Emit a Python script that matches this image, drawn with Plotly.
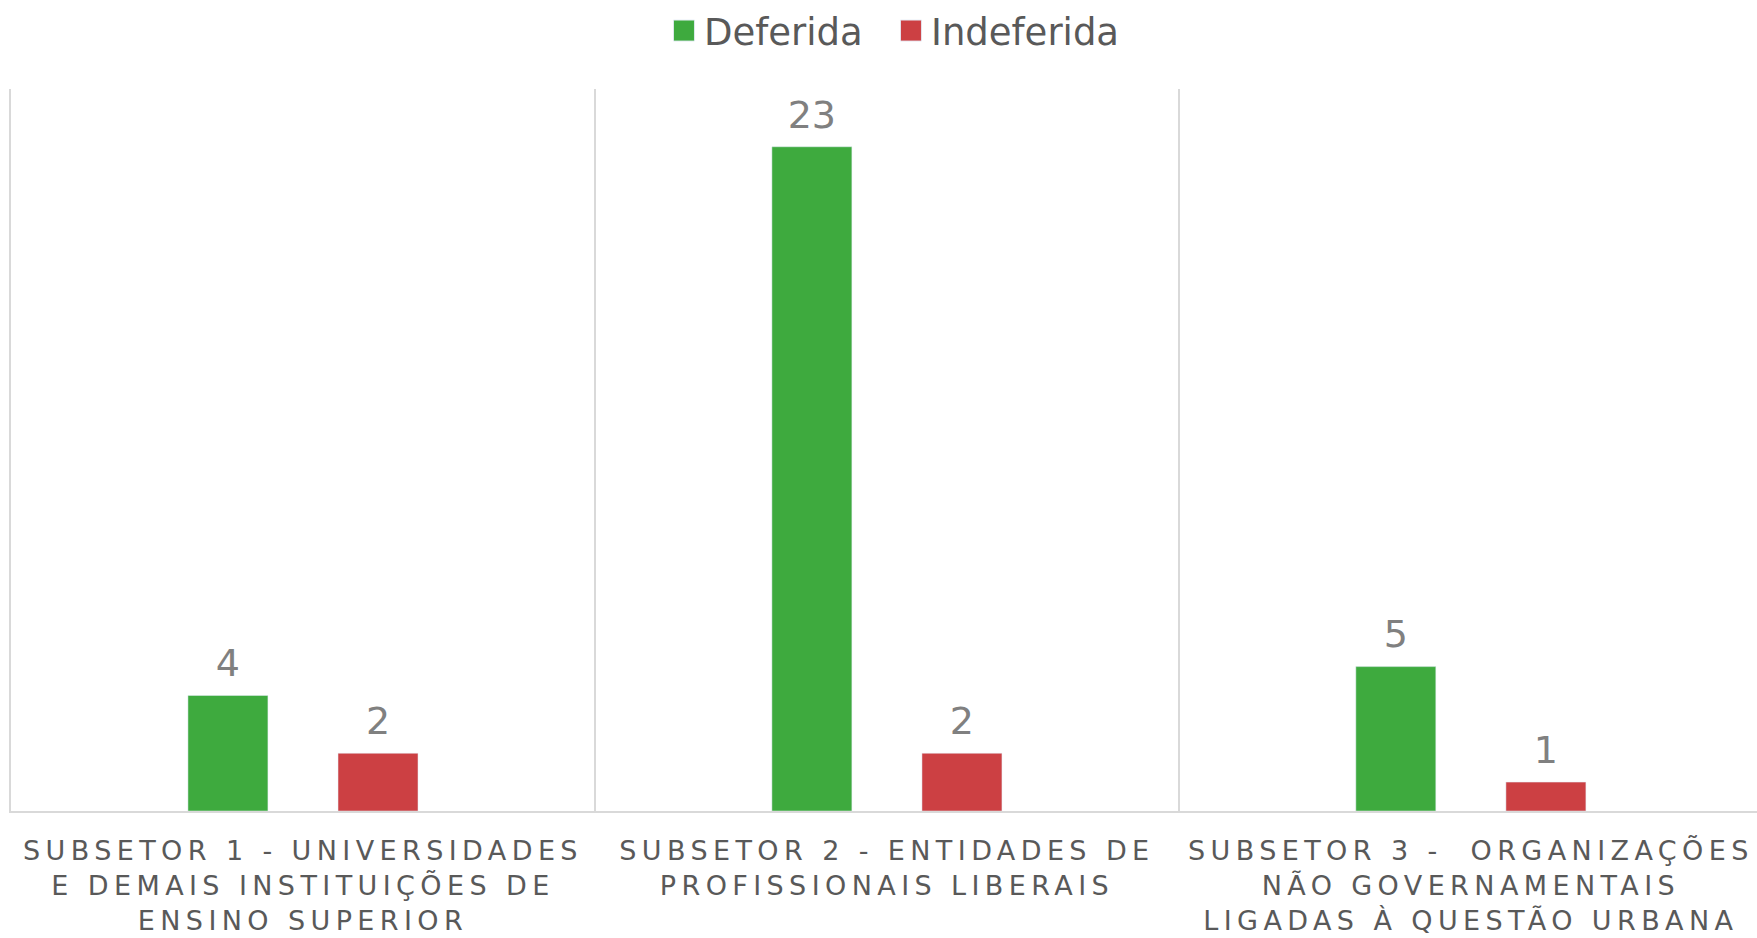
import plotly.graph_objects as go

# data
categorias = [
    "SUBSETOR 1 - UNIVERSIDADES<br>E DEMAIS INSTITUIÇÕES DE<br>ENSINO SUPERIOR",
    "SUBSETOR 2 - ENTIDADES DE<br>PROFISSIONAIS LIBERAIS",
    "SUBSETOR 3 -  ORGANIZAÇÕES<br>NÃO GOVERNAMENTAIS<br>LIGADAS À QUESTÃO URBANA",
]
deferida = [4, 23, 5]
indeferida = [2, 2, 1]

VERDE = "#3EAA3E"
VERMELHO = "#CC4043"
CINZA_LINHA = "#D9D9D9"
FONTE = "DejaVu Sans, Verdana, sans-serif"

data = []
for nome, valores, cor in [("Deferida", deferida, VERDE), ("Indeferida", indeferida, VERMELHO)]:
    data.append(go.Bar(x=categorias, y=valores, name=nome, marker_color=cor,
                       hoverinfo="x+y+name"))
# value labels: text points grouped like the bars, with an invisible marker as padding
for valores in [deferida, indeferida]:
    data.append(go.Scatter(x=categorias, y=valores, mode="markers+text", text=valores,
                           textposition="top center", showlegend=False, hoverinfo="skip",
                           marker=dict(size=14, opacity=0),
                           textfont=dict(size=38, color="#808080", family=FONTE),
                           cliponaxis=False))

layout = go.Layout(
    width=1757, height=938,
    margin=dict(l=11, r=0, t=88, b=127),
    paper_bgcolor="white", plot_bgcolor="white",
    font=dict(family=FONTE, color="#595959"),
    barmode="group", bargap=0.486, bargroupgap=0.467,
    scattermode="group", scattergap=0.486,
    showlegend=True,
    legend=dict(orientation="h", x=0.504, xanchor="center", y=1.08, yanchor="middle",
                font=dict(size=37, color="#595959"), entrywidth=182),
    xaxis=dict(type="category", range=[-0.5, 2.49], tickson="boundaries",
               showgrid=True, gridcolor=CINZA_LINHA, gridwidth=1.5,
               showline=True, linecolor=CINZA_LINHA, linewidth=1.5,
               ticks="", ticklabelstandoff=15, automargin=False,
               tickfont=dict(size=27, color="#595959")),
    yaxis=dict(range=[0, 25], showgrid=False, showticklabels=False,
               zeroline=False, showline=True, linecolor=CINZA_LINHA, linewidth=1.5,
               automargin=False),
)

fig = go.Figure(data=data, layout=layout)

# page without body margin, Excel-style spaced category labels, larger legend squares
css = """
document.body.style.margin = '0';
var s = document.createElement('style');
s.innerHTML = '.xtick text { letter-spacing: 5.4px; } '
  + '.legendpoints path { transform: translate(20px, 0px) scale(1.75); }';
document.head.appendChild(s);
"""
fig.write_html("out.html", post_script=css, config={"displayModeBar": False})
